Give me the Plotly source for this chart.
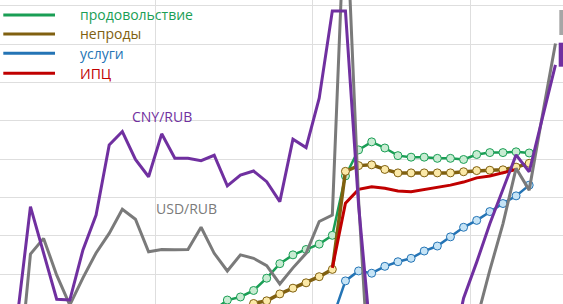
import plotly.graph_objects as go

# month index: 0 = Jan 2020 ... 42 = Jul 2023
months = [f"{2020 + i // 12}-{i % 12 + 1:02d}" for i in range(43)]
idx = list(range(43))

cny_rub = [-3.3, -1.2, 27.6, 15.5, 3.4, 3.2, 16.3, 25.4, 43.7, 47.2, 39.9, 35.4,
           46.6, 40.2, 40.2, 39.6, 41.0, 33.0, 35.8, 36.9, 34.1, 28.9, 45.2, 43.0,
           55.9, 78.7, 78.7, 28.0, -9.6, -12.0, -14.0, -15.0, -14.0, -13.0, -12.5, 3.7,
           13.1, 23.1, 31.9, 41.1, 36.7, 50.7, 64.6]
usd_rub = [-17.7, -20.3, 15.2, 19.3, 9.7, 1.9, 9.0, 15.5, 20.6, 26.9, 24.3, 15.8,
           16.4, 16.3, 16.4, 22.2, 15.4, 10.8, 15.0, 14.1, 12.2, 7.4, 11.6, 15.4,
           23.7, 25.4, 110.3, 29.3, -28.1, -28.0, -27.0, -24.0, -20.0, -17.7, -12.5, -7.2,
           -2.0, 11.0, 23.1, 37.6, 31.9, 51.3, 70.2]

food_idx = list(range(16, 41))
food = [0.6, 3.2, 4.0, 5.7, 8.9, 12.7, 15.0, 16.4, 17.8, 20.1, 35.6, 42.4, 44.5,
        42.9, 40.9, 40.5, 40.5, 40.2, 40.2, 39.9, 41.2, 41.7, 41.7, 41.9, 41.6]

nonfood_idx = list(range(18, 41))
nonfood = [0.6, 2.3, 3.0, 4.8, 6.3, 7.7, 9.3, 11.2, 36.8, 38.3, 38.5, 37.3, 36.4,
           36.4, 36.4, 36.4, 36.4, 36.7, 37.0, 37.1, 37.2, 37.9, 38.9]

services_idx = list(range(25, 41))
services = [-1.7, 8.2, 10.8, 10.2, 12.0, 13.2, 14.1, 16.0, 17.3, 19.7, 22.2, 24.0,
            26.3, 28.4, 30.4, 33.2]

cpi_idx = list(range(25, 40))
cpi = [11.6, 28.5, 32.1, 32.8, 32.4, 31.7, 31.5, 32.1, 32.6, 33.2, 34.0, 35.1,
       35.6, 36.4, 37.3]

legend_names = ["продовольствие", "непроды", "услуги", "ИПЦ"]

GREEN, BROWN, BLUE, RED = "#1a9e55", "#806010", "#2474b5", "#c00000"
PURPLE, GREY = "#7030a0", "#7a7a7a"
FONT = "Open Sans"

fig = go.Figure()

def lab(ix):
    return [months[i] for i in ix]

fig.add_trace(go.Scatter(x=food_idx, y=food, mode="lines+markers", name=legend_names[0],
                         line=dict(color=GREEN, width=2.5),
                         marker=dict(size=8, color="#c8ecd2", line=dict(color=GREEN, width=1)),
                         text=lab(food_idx)))
fig.add_trace(go.Scatter(x=nonfood_idx, y=nonfood, mode="lines+markers", name=legend_names[1],
                         line=dict(color=BROWN, width=3.5),
                         marker=dict(size=8, color="#fbe9a8", line=dict(color=BROWN, width=1)),
                         text=lab(nonfood_idx)))
fig.add_trace(go.Scatter(x=services_idx, y=services, mode="lines+markers", name=legend_names[2],
                         line=dict(color=BLUE, width=2.5),
                         marker=dict(size=8, color="#c6e4f6", line=dict(color=BLUE, width=1)),
                         text=lab(services_idx)))
fig.add_trace(go.Scatter(x=cpi_idx, y=cpi, mode="lines", name=legend_names[3],
                         line=dict(color=RED, width=3), text=lab(cpi_idx)))
fig.add_trace(go.Scatter(x=idx, y=usd_rub, mode="lines", name="USD/RUB",
                         line=dict(color=GREY, width=3), text=months))
fig.add_trace(go.Scatter(x=idx, y=cny_rub, mode="lines", name="CNY/RUB",
                         line=dict(color=PURPLE, width=3), text=months))

# text labels for exchange rates
fig.add_annotation(x=12.06, y=51.1, text="CNY/RUB", showarrow=False,
                   font=dict(family=FONT, size=14, color=PURPLE))
fig.add_annotation(x=13.89, y=27.1, text="USD/RUB", showarrow=False,
                   font=dict(family=FONT, size=14, color=GREY))

# manual legend (top-left)
H, W = 304, 563
leg_y = [15, 34, 53.3, 73.3]
leg_col = [GREEN, BROWN, BLUE, RED]
for name, yy, col in zip(legend_names, leg_y, leg_col):
    fig.add_shape(type="line", xref="paper", yref="paper",
                  x0=3.3 / W, x1=55 / W, y0=1 - yy / H, y1=1 - yy / H,
                  line=dict(color=col, width=3))
    fig.add_annotation(xref="paper", yref="paper", x=78 / W, y=1 - yy / H,
                       xanchor="left", yanchor="middle", text=name, showarrow=False,
                       font=dict(family=FONT, size=14, color=col))

# partially visible legend swatches at the right edge
fig.add_shape(type="rect", xref="paper", yref="paper", x0=559.3 / W, x1=1.01,
              y0=1 - 35 / H, y1=1 - 10 / H, line=dict(width=0), fillcolor="#a6a6a6")
fig.add_shape(type="rect", xref="paper", yref="paper", x0=558.7 / W, x1=1.01,
              y0=1 - 66.7 / H, y1=1 - 42.7 / H, line=dict(width=0), fillcolor=PURPLE)

fig.update_layout(
    width=W, height=H, margin=dict(l=0, r=0, t=0, b=0),
    paper_bgcolor="white", plot_bgcolor="white", showlegend=False,
    font=dict(family=FONT),
    xaxis=dict(range=[-0.32, 42.575], tickmode="linear", tick0=-0.5, dtick=12,
               showgrid=True, gridcolor="#dedede", gridwidth=1, showticklabels=False,
               zeroline=False, showline=False, ticks=""),
    yaxis=dict(range=[2.167, 81.54], tickmode="linear", tick0=0, dtick=10,
               showgrid=True, gridcolor="#dedede", gridwidth=1, showticklabels=False,
               zeroline=False, showline=False, ticks=""),
)

fig.write_html("out.html")
